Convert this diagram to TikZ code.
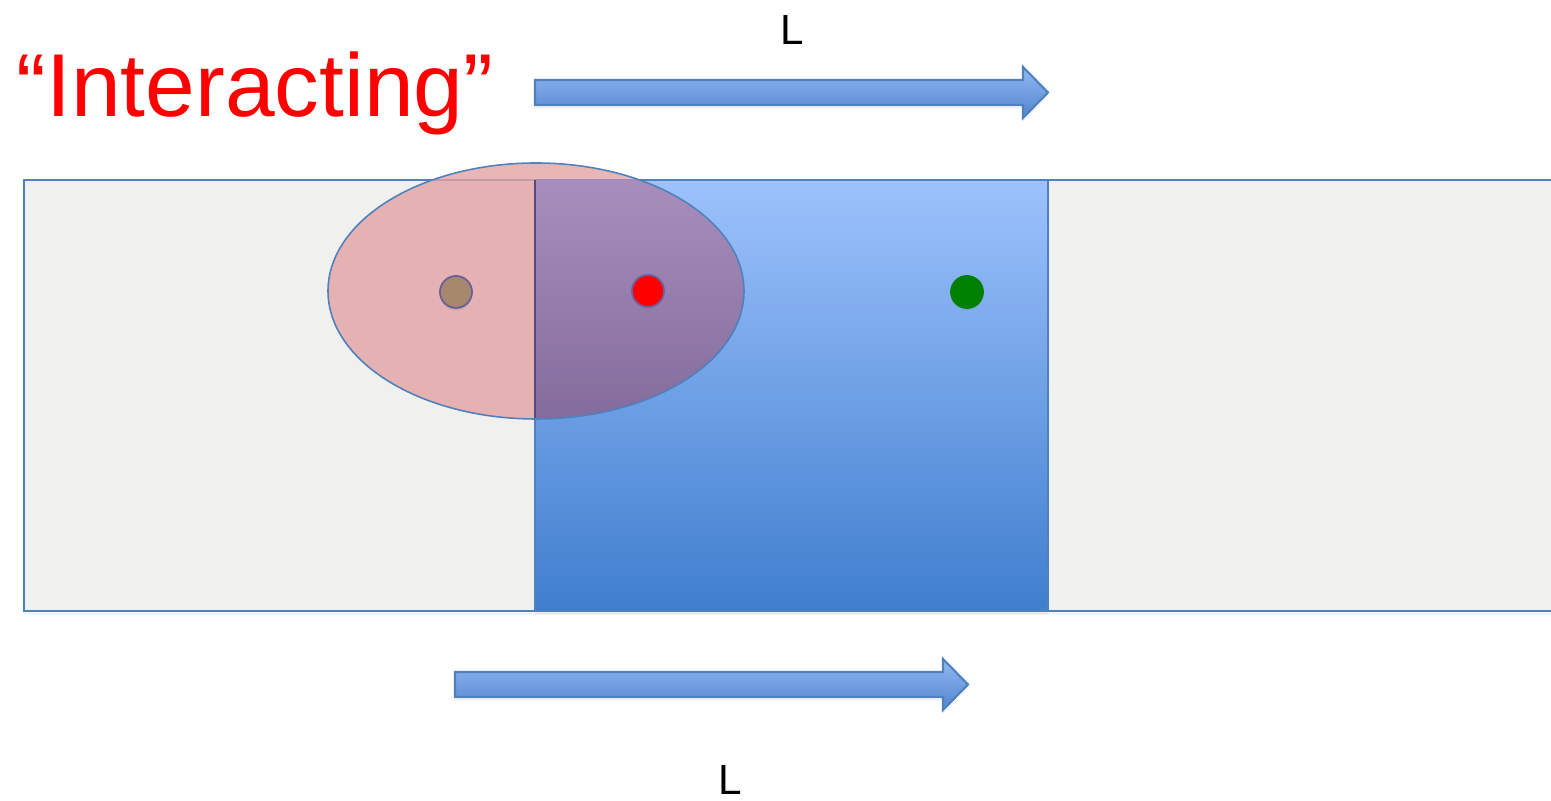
\documentclass[tikz,border=0pt]{standalone}
\usepackage{fontspec}
\setmainfont{Liberation Sans}
\usetikzlibrary{shadows}
\definecolor{pblue}{RGB}{79,129,189}
\definecolor{bgrey}{RGB}{240,240,238}
\definecolor{sqtop}{RGB}{157,194,252}
\definecolor{sqbot}{RGB}{63,126,206}
\definecolor{artop}{RGB}{145,185,245}
\definecolor{arbot}{RGB}{82,132,205}
\definecolor{epink}{RGB}{228,162,163}
\definecolor{epurtop}{RGB}{157,136,190}
\definecolor{epurbot}{RGB}{80,62,124}
\definecolor{dbrown}{RGB}{168,136,108}
\definecolor{dring}{RGB}{105,95,160}
\definecolor{dgreen}{RGB}{0,128,0}
\definecolor{ired}{RGB}{255,0,0}

\begin{document}
\begin{tikzpicture}[x=0.01cm, y=-0.01cm,
    softshadow/.style={drop shadow={opacity=0.08, shadow xshift=0pt, shadow yshift=-1.2pt}},
    band/.style={draw=pblue, line width=0.6pt, fill=bgrey, softshadow},
    window/.style={draw=pblue, line width=0.6pt, top color=sqtop, bottom color=sqbot, softshadow},
    arrowbar/.style={draw=pblue, line width=0.6pt, top color=artop, bottom color=arbot, softshadow},
    dot/.style={circle, inner sep=0pt, minimum size=0.32cm, line width=0.5pt, drop shadow={opacity=0.15, shadow xshift=0pt, shadow yshift=-0.8pt}},
    lab/.style={font=\fontsize{12}{14}\selectfont}
  ]
  \useasboundingbox (0,0) rectangle (1551,801);

  % strip and sliding window
  \draw[band] (24,180) rectangle (1560,611);
  \draw[window] (535,180) rectangle (1048,611);

  % interaction range
  \fill[epink, fill opacity=0.8] (536,291) ellipse [x radius=208, y radius=128];
  \begin{scope}
    \clip (536,291) ellipse [x radius=208, y radius=128];
    \shade[top color=epurtop, bottom color=epurbot, fill opacity=0.8] (535,180) rectangle (1048,611);
    \draw[dring!80!black, line width=0.6pt] (535,180) -- (535,420);
  \end{scope}
  \draw[pblue, line width=0.45pt] (536,291) ellipse [x radius=208, y radius=128];

  % particles
  \node[dot, draw=dring, fill=dbrown] (pBrown) at (456,292) {};
  \node[dot, draw=dring, fill=red] (pRed) at (648,291) {};
  \node[dot, draw=dgreen, fill=dgreen] (pGreen) at (967,292) {};

  % shift arrows
  \draw[arrowbar] (535,80) -- (1023,80) -- (1023,67) -- (1048,92.5) -- (1023,118) -- (1023,105) -- (535,105) -- cycle;
  \draw[arrowbar] (455,672) -- (943,672) -- (943,659) -- (968,684.5) -- (943,710) -- (943,697) -- (455,697) -- cycle;

  \node[lab] (lTop) at (792,30) {L};
  \node[lab] (lBot) at (730,780) {L};
  \node[anchor=base west, inner sep=0pt, text=ired, font=\fontsize{25.4}{30}\selectfont] (title) at (16,117) {“Interacting”};
\end{tikzpicture}
\end{document}
